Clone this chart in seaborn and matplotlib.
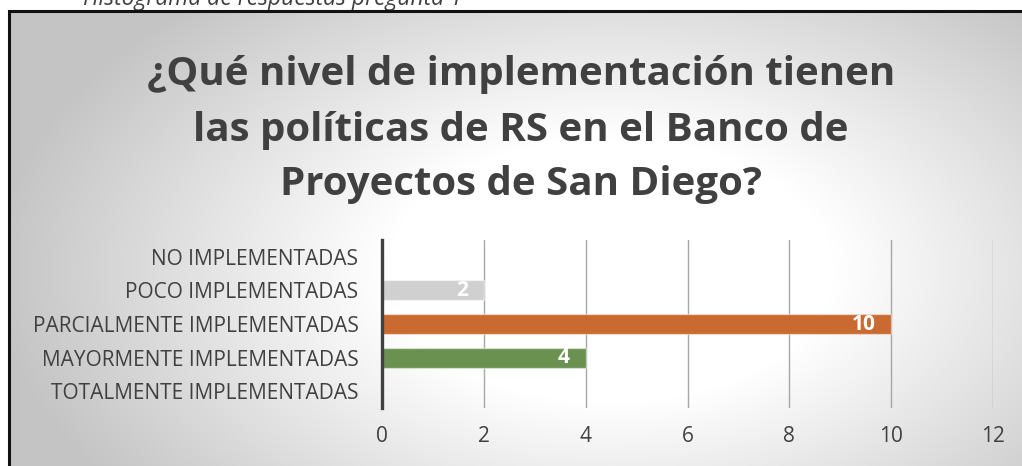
import numpy as np
import pandas as pd
import matplotlib
matplotlib.use("Agg")
import matplotlib.pyplot as plt
import seaborn as sns
from matplotlib.patches import Rectangle

categories = ["NO IMPLEMENTADAS", "POCO IMPLEMENTADAS", "PARCIALMENTE IMPLEMENTADAS",
              "MAYORMENTE IMPLEMENTADAS", "TOTALMENTE IMPLEMENTADAS"]
values = [0, 2, 10, 4, 0]
bar_colors = ["#d0d0d0", "#d0d0d0", "#c96b30", "#6a9150", "#d0d0d0"]
x_ticks = [0, 2, 4, 6, 8, 10, 12]
title_lines = ["¿Qué nivel de implementación tienen",
               "las políticas de RS en el Banco de",
               "Proyectos de San Diego?"]
caption = "Histograma de respuestas pregunta 1"

sns.set_theme(style="white")
plt.rcParams['font.family'] = ['Open Sans', 'DejaVu Sans']

W, H = 1022, 466
fig = plt.figure(figsize=(W / 100, H / 100), dpi=100)
fig.patch.set_facecolor("white")

# background gradient (inside the chart border)
bg = fig.add_axes([0, 0, 1, 1], zorder=-10)
yy, xx = np.mgrid[0:H, 0:W]
cx, cy = 610, 270
d = np.sqrt(((xx - cx) / 560.0) ** 2 + ((yy - cy) / 330.0) ** 2)
t = np.clip((d - 0.4) / 0.7, 0, 1)
g = 1.0 - t * (1.0 - 0.77)
img = np.dstack([g, g, g])
mask = (xx < 9) | (yy < 11)
img[mask] = 1.0
bg.imshow(img, extent=[0, W, H, 0], aspect="auto", interpolation="bilinear")
bg.set_xlim(0, W)
bg.set_ylim(H, 0)
bg.axis("off")

# border
fig.patches.append(Rectangle((9 / W, -0.2), 1.5, 1.2 - 11 / H, transform=fig.transFigure,
                             fill=False, edgecolor="#111111", linewidth=2.2, zorder=5))

# main axes
ax = fig.add_axes([382 / W, 1 - 408 / H, 611 / W, 168 / H])
ax.patch.set_alpha(0)

df = pd.DataFrame({"cat": categories, "val": values})
sns.barplot(data=df, x="val", y="cat", hue="cat", palette=bar_colors, order=categories,
            orient="h", width=0.6, legend=False, ax=ax, saturation=1,
            edgecolor=(1, 1, 1, 0.45), linewidth=1.0)

ax.set_xlim(0, 12)
ax.set_ylim(4.5, -0.5)
ax.set_xticks(x_ticks)
ax.set_xticklabels([str(v) for v in x_ticks])
ax.xaxis.grid(True, color="#a6a6a6", linewidth=1.0)
ax.yaxis.grid(False)
ax.set_axisbelow(True)
ax.set_xlabel("")
ax.set_ylabel("")
for s in ["top", "right", "bottom"]:
    ax.spines[s].set_visible(False)
ax.spines["left"].set_color("#404040")
ax.spines["left"].set_linewidth(2.4)
ax.tick_params(axis="x", length=0, pad=13, labelsize=15, labelcolor="#404040")
ax.tick_params(axis="y", length=0, pad=17, labelsize=15, labelcolor="#404040")

for i, v in enumerate(values):
    if v > 0:
        ax.annotate(str(v), xy=(v, i), xytext=(-11.5, 0), textcoords="offset points",
                    ha="right", va="center", color="white", fontsize=15,
                    fontweight="bold")

# title
for k, line in enumerate(title_lines):
    fig.text(521 / W, 1 - (75 + 55 * k) / H, line, ha="center", va="center",
             fontsize=29, fontweight="bold", color="#404040")

fig.text(83 / W, 1 - 5 / H, caption, ha="left", va="baseline", fontsize=16.5,
         style="italic", color="#404040")

fig.savefig("out.png", dpi=100)
